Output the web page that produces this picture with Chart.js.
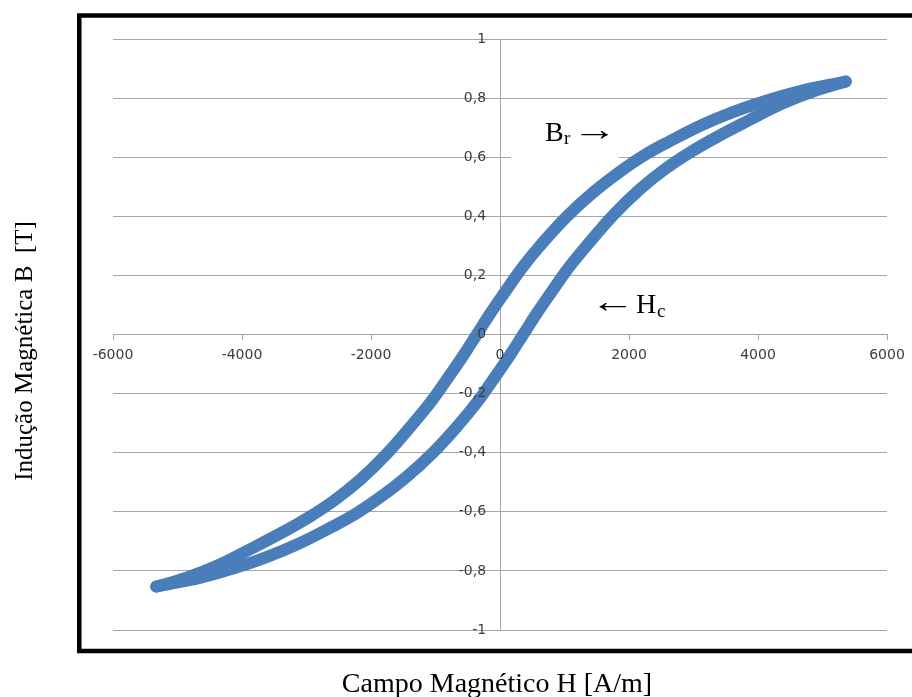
<!DOCTYPE html>
<html>
<head>
<meta charset="utf-8">
<script src="https://cdn.jsdelivr.net/npm/chart.js@4.4.1/dist/chart.umd.min.js"></script>
<style>
  html, body { margin: 0; padding: 0; background: #fff; overflow: hidden; }
</style>
</head>
<body>
<canvas id="loop" width="912" height="697"></canvas>
<script>
// descending branch (from +Hmax to -Hmax)
const fieldDown = [5360, 4640, 4140, 3640, 3140, 2640, 2240, 1840, 1440, 1040, 640, 340, 40, -160,
  -360, -560, -760, -1060, -1360, -1760, -2160, -2560, -2960, -3360, -3860, -4360, -4860, -5330];
const inductionDown = [0.856, 0.823, 0.792, 0.755, 0.71, 0.655, 0.607, 0.548, 0.48, 0.40, 0.305, 0.225, 0.132, 0.068,
  0.0, -0.068, -0.132, -0.225, -0.305, -0.405, -0.49, -0.56, -0.618, -0.668, -0.725, -0.78, -0.823, -0.853];

// ascending branch (from -Hmax back to +Hmax)
const fieldUp = [-5330, -4640, -4140, -3640, -3140, -2640, -2240, -1840, -1440, -1040, -640, -340, -40, 160,
  360, 560, 760, 1060, 1360, 1760, 2160, 2560, 2960, 3360, 3860, 4360, 4860, 5360];
const inductionUp = [-0.853, -0.823, -0.792, -0.755, -0.71, -0.655, -0.607, -0.548, -0.48, -0.40, -0.305, -0.225, -0.132, -0.068,
  0.0, 0.068, 0.132, 0.225, 0.305, 0.405, 0.49, 0.56, 0.618, 0.668, 0.725, 0.78, 0.823, 0.856];

const xTicks = [-6000, -4000, -2000, 0, 2000, 4000, 6000];
const yTicks = [-1, -0.8, -0.6, -0.4, -0.2, 0, 0.2, 0.4, 0.6, 0.8, 1];

const blue = '#4a7ebb';
const gridGray = '#a6a6a6';
const labelGray = '#3c3c3c';
const tickFont = { family: 'DejaVu Sans', size: 14 };

const toPoints = (xs, ys) => xs.map((x, i) => ({ x, y: ys[i] }));
const fixTicks = values => scale => { scale.ticks = values.map(v => ({ value: v })); };
const comma = v => String(Math.round(v * 10) / 10).replace('.', ',');

const lineStyle = {
  showLine: true,
  borderColor: blue,
  backgroundColor: blue,
  borderWidth: 12,
  borderCapStyle: 'round',
  borderJoinStyle: 'round',
  pointRadius: 0,
  tension: 0.4,
  fill: false
};

// stretched arrow glyph, like the ones in the original text boxes
function arrow(ctx, ch, x, y) {
  ctx.save();
  ctx.translate(x, y);
  ctx.scale(1.4, 1);
  ctx.font = '32px "Liberation Serif"';
  ctx.fillText(ch, 0, 0);
  ctx.restore();
}

// frame, axis titles, annotations
const decor = {
  id: 'decor',
  beforeDatasetsDraw(chart) {
    const ctx = chart.ctx;
    ctx.save();
    ctx.fillStyle = '#fff';
    ctx.fillRect(511, 106, 108, 58); // text box behind "Br ->"
    ctx.restore();
  },
  afterDraw(chart) {
    const ctx = chart.ctx;
    ctx.save();
    ctx.strokeStyle = '#000';
    ctx.lineWidth = 4.5;
    ctx.strokeRect(79.25, 15.5, 860, 635.5);

    ctx.fillStyle = '#000';
    ctx.textBaseline = 'alphabetic';
    ctx.font = '28px "Liberation Serif"';
    ctx.textAlign = 'center';
    ctx.fillText('Campo Magnético H [A/m]', 497, 692);

    ctx.save();
    ctx.translate(32, 351);
    ctx.rotate(-Math.PI / 2);
    ctx.font = '25px "Liberation Serif"';
    ctx.fillText('Indução Magnética B  [T]', 0, 0);
    ctx.restore();

    ctx.textAlign = 'left';
    ctx.font = '28px "Liberation Serif"';
    ctx.fillText('B', 545, 141);
    ctx.fillText('H', 636, 313);
    ctx.font = '19px "Liberation Serif"';
    ctx.fillText('r', 564, 144);
    ctx.fillText('c', 657, 317);
    arrow(ctx, '\u2192', 572, 140);
    arrow(ctx, '\u2190', 590, 312);
    ctx.restore();
  }
};

new Chart(document.getElementById('loop'), {
  type: 'scatter',
  data: {
    datasets: [
      { label: 'descendente', data: toPoints(fieldDown, inductionDown), ...lineStyle },
      { label: 'ascendente', data: toPoints(fieldUp, inductionUp), ...lineStyle }
    ]
  },
  options: {
    responsive: false,
    animation: false,
    devicePixelRatio: 1,
    layout: { padding: { left: 113, right: 25, top: 39, bottom: 67 } },
    plugins: { legend: { display: false }, tooltip: { enabled: false } },
    scales: {
      x: {
        type: 'linear', min: -6000, max: 6000, position: { y: 0 },
        afterBuildTicks: fixTicks(xTicks),
        grid: { drawOnChartArea: false, drawTicks: true, tickLength: 5, color: gridGray },
        border: { color: gridGray },
        ticks: { z: 1, font: tickFont, color: labelGray, padding: 7, maxRotation: 0, callback: v => String(v) }
      },
      y: {
        type: 'linear', min: -1, max: 1, position: { x: 0 },
        afterBuildTicks: fixTicks(yTicks),
        grid: { drawTicks: false, color: gridGray },
        border: { color: gridGray },
        ticks: { display: false }
      },
      // value labels a little left of the H = 0 axis (object position ignores ticks.padding)
      y2: {
        type: 'linear', axis: 'y', min: -1, max: 1, position: { x: -215 },
        afterBuildTicks: fixTicks(yTicks),
        grid: { display: false, drawTicks: false },
        border: { display: false },
        ticks: { z: 1, font: tickFont, color: labelGray, callback: comma }
      }
    }
  },
  plugins: [decor]
});
</script>
</body>
</html>
